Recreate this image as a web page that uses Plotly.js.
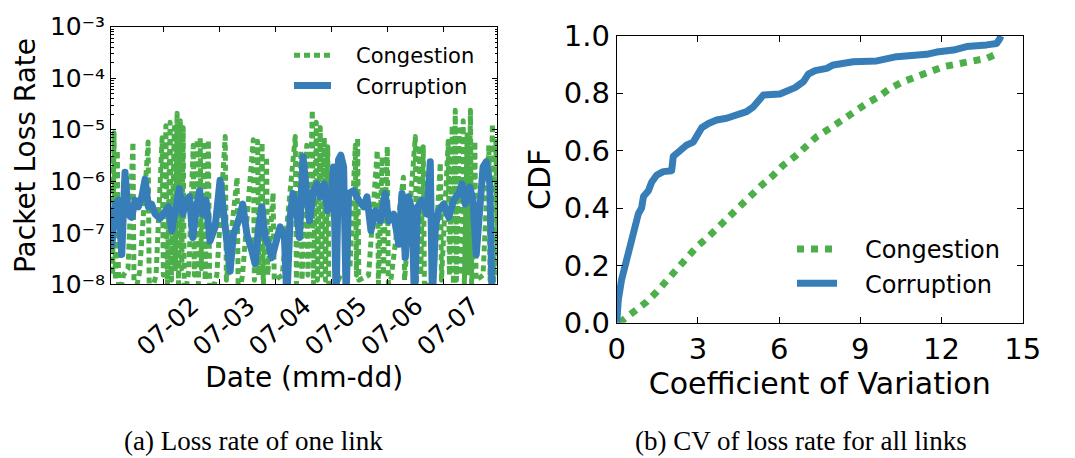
<!DOCTYPE html>
<html><head><meta charset="utf-8">
<script src="https://cdn.plot.ly/plotly-3.0.1.min.js"></script>
<style>html,body{margin:0;padding:0;background:#fff}#chart{width:1075px;height:458px}
.scatterlayer .js-line{stroke-linejoin:round}</style>
</head><body><div id="chart"></div>
<script>
// (a) Loss rate of one link — x in hours since 07-01 00:00
const dayTickHours = [24, 48, 72, 96, 120, 144];
const dayTickLabels = ['07-02', '07-03', '07-04', '07-05', '07-06', '07-07'];
const lossTickVals = [1e-8, 1e-7, 1e-6, 1e-5, 1e-4, 1e-3];
const lossTickText = ['10\u207b\u2078', '10\u207b\u2077', '10\u207b\u2076', '10\u207b\u2075', '10\u207b\u2074', '10\u207b\u00b3'];
const seriesNames = ['Congestion', 'Corruption'];

const congestionHour = [1.8, 2.4, 3.0, 3.6, 4.4, 5.0, 7.0, 9.0, 11.1, 11.6,
  14.0, 17.6, 18.1, 21.0, 23.6, 24.1, 25.2, 25.8, 27.0, 27.6,
  28.8, 29.3, 30.0, 30.6, 31.4, 32.0, 32.6, 33.1, 35.0, 36.9,
  37.4, 38.6, 39.1, 39.9, 40.4, 41.5, 42.0, 43.4, 44.0, 47.0,
  50.6, 51.1, 55.7, 56.2, 58.0, 62.6, 63.1, 64.5, 65.0, 66.4,
  66.9, 68.3, 68.8, 71.1, 71.6, 75.0, 80.6, 81.1, 83.0, 83.5,
  85.5, 86.0, 87.9, 88.4, 89.6, 90.1, 91.3, 91.8, 93.0, 93.5,
  94.5, 95.0, 100.0, 104.0, 106.3, 106.8, 107.3, 107.8, 112.0, 115.7,
  116.2, 117.8, 118.3, 120.0, 120.5, 126.9, 127.4, 132.0, 132.5, 133.8,
  134.3, 135.4, 135.9, 140.0, 142.7, 143.2, 146.1, 146.6, 147.8, 148.3,
  149.1, 149.6, 150.8, 151.3, 152.5, 153.0, 154.2, 154.7, 155.6, 156.1,
  157.5, 158.0, 161.0, 163.5, 164.0, 165.0, 165.5, 166.5, 167.2];
const congestionRate = [3e-6, 1.5e-8, 8.7e-6, 1.2e-8, 4e-6, 5e-9, 1.5e-8, 2e-8, 5.8e-6, 5e-9,
  1.8e-8, 5.8e-6, 5e-9, 1.5e-8, 7e-6, 1.5e-8, 1.2e-5, 8e-9, 1.4e-5, 1.2e-8,
  1.1e-5, 2e-8, 2.1e-5, 1e-8, 1.5e-5, 2e-8, 1.1e-5, 5e-9, 1.8e-8, 5e-6,
  1.5e-8, 6.5e-6, 1e-8, 7e-6, 2e-8, 6e-6, 1.2e-8, 6.3e-6, 5e-9, 1.5e-8,
  7.4e-6, 1.2e-8, 1.2e-6, 5e-9, 1.5e-8, 6.4e-6, 1.2e-8, 6e-6, 1.5e-8, 5.6e-6,
  8e-9, 3e-6, 1.5e-8, 6e-7, 1.2e-8, 1.5e-8, 7.4e-6, 1e-8, 4e-6, 1.2e-8,
  5e-6, 1.5e-8, 2.4e-5, 8e-9, 1.4e-5, 1.2e-8, 1.1e-5, 1.5e-8, 7e-6, 1.2e-8,
  4.7e-6, 5e-9, 1.5e-8, 2e-8, 5e-6, 1.5e-8, 7e-6, 1.2e-8, 1.5e-8, 4e-6,
  1e-8, 3e-6, 1.5e-8, 4.7e-6, 5e-9, 1.2e-6, 1.2e-8, 7.4e-6, 1e-8, 5e-6,
  1.5e-8, 4.7e-6, 8e-9, 1.5e-8, 2.3e-6, 1.2e-8, 6e-6, 1.5e-8, 1.2e-5, 1e-8,
  2.4e-5, 1.2e-8, 1e-5, 1.5e-8, 1.5e-5, 1e-8, 8e-6, 1.5e-8, 2.4e-5, 8e-9,
  6e-6, 1.2e-8, 1.5e-8, 5e-6, 1.2e-8, 1.3e-5, 1e-8, 6e-6, 1.5e-8];

const corruptionHour = [2.0, 3.4, 4.9, 6.3, 7.7, 9.1, 10.6, 12.0, 13.4, 14.9,
  16.3, 17.7, 19.1, 20.6, 22.7, 24.9, 26.3, 27.7, 29.1, 31.0,
  32.4, 33.9, 35.3, 36.7, 38.1, 39.6, 41.0, 42.4, 44.1, 46.3,
  48.4, 49.9, 51.3, 52.7, 54.1, 56.3, 58.1, 59.9, 62.0, 63.4,
  64.9, 66.3, 67.7, 69.1, 70.6, 72.0, 74.1, 75.9, 77.0, 78.4,
  79.6, 81.0, 82.4, 83.9, 85.3, 86.7, 88.4, 89.9, 91.3, 93.0,
  94.4, 95.9, 97.0, 98.1, 99.1, 100.1, 101.3, 102.4, 103.4, 105.6,
  107.7, 109.9, 111.3, 113.0, 114.9, 117.0, 119.1, 120.6, 122.7, 124.9,
  126.3, 127.7, 129.1, 130.6, 131.6, 133.0, 134.9, 137.0, 138.4, 139.3,
  140.6, 142.0, 144.1, 146.3, 148.4, 150.6, 152.0, 153.4, 155.3, 156.7,
  158.1, 159.6, 161.0, 162.4, 163.9, 164.9];
const corruptionRate = [5.1e-8, 3.6e-7, 4.3e-7, 3.8e-8, 1.5e-6, 2.3e-7, 2.0e-7, 4.3e-7, 3.2e-7, 5.0e-7,
  1.1e-6, 3.2e-7, 3.6e-7, 2.3e-7, 1.9e-7, 2.7e-7, 3.2e-7, 1.1e-7, 2.7e-7, 7.2e-7,
  2.3e-7, 4.3e-7, 5.0e-7, 8.1e-8, 2.7e-7, 6.6e-7, 2.3e-7, 4.3e-7, 6.9e-8, 1.3e-7,
  1.05e-6, 2.7e-7, 6.9e-8, 1.8e-8, 9.3e-8, 1.7e-7, 3.6e-7, 9.3e-8, 4.5e-8, 2.5e-8,
  1.3e-7, 3.2e-7, 8.1e-8, 6.0e-8, 3.3e-8, 6.0e-8, 1.3e-7, 9.3e-8, 5e-9, 2.0e-7,
  5.8e-7, 3.2e-7, 8.1e-8, 3.0e-6, 4.3e-7, 1.7e-7, 6.6e-7, 8.9e-7, 5.0e-7, 8.9e-7,
  2.7e-7, 5.0e-7, 1.9e-6, 5e-9, 2.6e-6, 3.2e-6, 1.9e-6, 5e-9, 5.8e-7, 6.6e-7,
  4.3e-7, 3.2e-7, 5.0e-7, 1.1e-7, 2.7e-7, 1.7e-7, 5.8e-7, 1.7e-7, 2.3e-7, 6.0e-8,
  5.8e-7, 3.3e-8, 5.0e-7, 2.7e-7, 5e-9, 3.2e-7, 4.3e-7, 2.3e-7, 2.4e-6, 5e-9,
  1.3e-7, 2.7e-7, 3.6e-7, 2.0e-7, 4.3e-7, 5.8e-7, 8.9e-7, 3.6e-7, 7.8e-7, 4.3e-7,
  3.8e-8, 4.3e-7, 1.9e-6, 2.4e-6, 8.9e-7, 5e-9];

// (b) CV of loss rate for all links
const cdfCongestionCV = [0.1, 0.62, 1.11, 1.48, 1.85, 2.22, 2.59, 2.96, 3.39, 3.76,
  4.13, 4.56, 4.93, 5.36, 5.79, 6.16, 6.59, 7.02, 7.39, 7.88,
  8.31, 8.74, 9.24, 9.67, 10.1, 10.59, 11.08, 11.58, 12.07, 12.56,
  13.05, 13.67, 14.1];
const cdfCongestionP = [0, 0.038, 0.073, 0.108, 0.149, 0.19, 0.23, 0.265, 0.30, 0.335,
  0.37, 0.405, 0.44, 0.48, 0.515, 0.55, 0.58, 0.614, 0.649, 0.678,
  0.707, 0.736, 0.765, 0.788, 0.817, 0.841, 0.86, 0.878, 0.893, 0.902,
  0.91, 0.922, 0.94];
const cdfCorruptionCV = [0, 0.06, 0.18, 0.37, 0.55, 0.68, 0.8, 0.92, 0.99, 1.17,
  1.29, 1.48, 1.72, 2.03, 2.09, 2.34, 2.59, 2.83, 3.02, 3.14,
  3.39, 3.69, 4.06, 4.43, 4.8, 5.05, 5.23, 5.42, 6.03, 6.28,
  6.59, 6.9, 7.08, 7.33, 7.76, 8.0, 8.43, 8.74, 9.61, 9.85,
  10.34, 11.45, 11.82, 12.44, 12.93, 13.67, 14.04, 14.16, 14.19];
const cdfCorruptionP = [0, 0.08, 0.15, 0.22, 0.29, 0.33, 0.38, 0.40, 0.44, 0.46,
  0.49, 0.515, 0.527, 0.53, 0.58, 0.60, 0.62, 0.63, 0.655, 0.68,
  0.695, 0.707, 0.713, 0.724, 0.736, 0.753, 0.777, 0.794, 0.798, 0.809,
  0.82, 0.841, 0.867, 0.879, 0.887, 0.899, 0.905, 0.91, 0.913, 0.919,
  0.928, 0.936, 0.944, 0.951, 0.963, 0.969, 0.974, 0.992, 1.0];

const GREEN = '#4daf4a', BLUE = '#377eb8';
const W = 1075, H = 458;
const px = v => v / W, py = v => 1 - v / H;
const PAD = '\u00a0\u00a0\u00a0'; // gap between legend sample and label, as in the original

// minor tick positions on the log axis (2..9 of each decade)
const minorVals = [];
for (let e = -8; e < -3; e++) for (let m = 2; m <= 9; m++) minorVals.push(m * Math.pow(10, e));

const traces = [
  {x: congestionHour, y: congestionRate, name: PAD + seriesNames[0], mode: 'lines', xaxis: 'x', yaxis: 'y',
   line: {color: GREEN, width: 5, dash: '6px,4px'}, legend: 'legend', legendgroup: 'a1'},
  {x: corruptionHour, y: corruptionRate, name: PAD + seriesNames[1], mode: 'lines', xaxis: 'x', yaxis: 'y',
   line: {color: BLUE, width: 7}, legend: 'legend', legendgroup: 'a2'},
  {x: cdfCongestionCV, y: cdfCongestionP, name: PAD + seriesNames[0], mode: 'lines', xaxis: 'x2', yaxis: 'y2',
   line: {color: GREEN, width: 7, dash: 'dot'}, legend: 'legend2', legendgroup: 'b1'},
  {x: cdfCorruptionCV, y: cdfCorruptionP, name: PAD + seriesNames[1], mode: 'lines', xaxis: 'x2', yaxis: 'y2',
   line: {color: BLUE, width: 7}, legend: 'legend2', legendgroup: 'b2'}
];

const FONT = 'DejaVu Sans, sans-serif';
const axCommon = {showline: true, linecolor: '#000', linewidth: 1, mirror: 'ticks', ticks: 'inside',
  tickcolor: '#000', showgrid: false, zeroline: false, automargin: false};

const layout = {
  width: W, height: H, margin: {l: 0, r: 0, t: 0, b: 0},
  paper_bgcolor: '#fff', plot_bgcolor: '#fff',
  font: {family: FONT, color: '#000'},
  showlegend: true,
  xaxis: Object.assign({}, axCommon, {
    domain: [px(111), px(497.3)], anchor: 'y', range: [1.7, 167.1],
    tickmode: 'array', tickvals: dayTickHours, ticktext: dayTickLabels,
    tickangle: -42, ticklen: 5, ticklabelshift: 29, ticklabelstandoff: -4, tickfont: {size: 25},
    title: {text: 'Date (mm-dd)', font: {size: 28}, standoff: 6}
  }),
  yaxis: Object.assign({}, axCommon, {
    domain: [py(284.3), py(26.7)], anchor: 'x', type: 'log', range: [-8, -3],
    tickmode: 'array', tickvals: lossTickVals, ticktext: lossTickText,
    ticklen: 5, tickfont: {size: 25},
    minor: {tickmode: 'array', tickvals: minorVals, ticks: 'inside', ticklen: 2.5, tickcolor: '#000', showgrid: false},
    title: {text: 'Packet Loss Rate', font: {size: 28}, standoff: 6}
  }),
  xaxis2: Object.assign({}, axCommon, {
    domain: [px(616.7), px(1022.7)], anchor: 'y2', range: [0, 15],
    tick0: 0, dtick: 3, ticklen: 6, tickfont: {size: 29},
    title: {text: 'Coefficient of Variation', font: {size: 30}, standoff: 2}
  }),
  yaxis2: Object.assign({}, axCommon, {
    domain: [py(322.7), py(36)], anchor: 'x2', range: [0, 1],
    tick0: 0, dtick: 0.2, tickformat: '.1f', ticklen: 6, tickfont: {size: 29},
    title: {text: 'CDF', font: {size: 30}, standoff: 4}
  }),
  legend: {x: px(289), y: py(35), xanchor: 'left', yanchor: 'top', bgcolor: 'rgba(0,0,0,0)',
    font: {size: 21}, tracegroupgap: 10, itemwidth: 37, traceorder: 'normal'},
  legend2: {x: px(792), y: py(227), xanchor: 'left', yanchor: 'top', bgcolor: 'rgba(0,0,0,0)',
    font: {size: 24}, tracegroupgap: 15, itemwidth: 40, traceorder: 'normal'},
  annotations: [
    {text: '(a) Loss rate of one link', xref: 'paper', yref: 'paper', x: px(253), y: py(441),
     xanchor: 'center', yanchor: 'middle', showarrow: false, font: {family: 'Liberation Serif, serif', size: 27, color: '#000'}},
    {text: '(b) CV of loss rate for all links', xref: 'paper', yref: 'paper', x: px(801), y: py(441),
     xanchor: 'center', yanchor: 'middle', showarrow: false, font: {family: 'Liberation Serif, serif', size: 27, color: '#000'}}
  ]
};

Plotly.newPlot('chart', traces, layout, {displayModeBar: false, staticPlot: true});
</script>
</body></html>
